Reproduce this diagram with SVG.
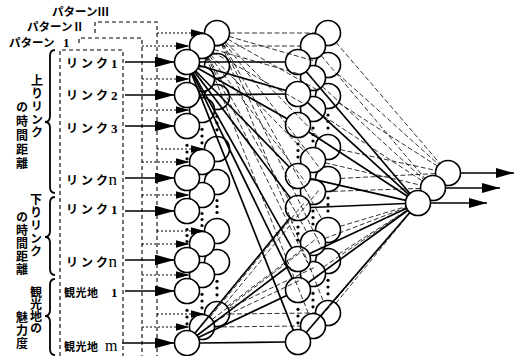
<svg xmlns="http://www.w3.org/2000/svg" width="515" height="356" viewBox="0 0 515 356">
<style>
.n circle{fill:#fff;stroke:#000;stroke-width:1.6}
.s{stroke:#000;stroke-width:1.7;fill:none}
.d{stroke:#000;stroke-width:0.8;stroke-dasharray:5 2.5;fill:none}
.box{stroke:#000;stroke-width:1.1;stroke-dasharray:4 3;fill:none}
.dt{stroke:#000;stroke-width:1;stroke-dasharray:2 2;fill:none}
.ar{stroke:#000;stroke-width:1.6;fill:none}
.br{stroke:#000;stroke-width:1.8;fill:none}
.jp{font-family:"Noto Sans CJK JP",sans-serif;font-weight:bold;fill:#000}
.sf{font-family:"Liberation Serif",serif;fill:#000}
.v{writing-mode:vertical-rl}
.dots circle{fill:#000}
</style>
<defs>
<marker id="ah" markerUnits="userSpaceOnUse" markerWidth="22" markerHeight="12" refX="20" refY="5.5" orient="auto"><path d="M0,0 L20,5.5 L0,11 z" fill="#000"/></marker>
<marker id="ahs" markerUnits="userSpaceOnUse" markerWidth="16" markerHeight="9" refX="14" refY="4" orient="auto"><path d="M0,0 L14,4 L0,8 z" fill="#000"/></marker>
<marker id="aho" markerUnits="userSpaceOnUse" markerWidth="20" markerHeight="12" refX="18" refY="5" orient="auto"><path d="M0,0 L18,5 L0,10 z" fill="#000"/></marker>
</defs>
<rect width="515" height="356" fill="#fff"/>

<g id="pattern-labels">
<text class="jp" x="52" y="16" font-size="11.5">パターンⅢ</text>
<text class="jp" x="27" y="30.5" font-size="11.5">パターンⅡ</text>
<text class="jp" x="9" y="46.5" font-size="11.5">パターン</text>
<text class="sf" x="63" y="46.5" font-size="13" font-weight="bold">1</text>
</g>

<g id="pattern-boxes">
<path class="box" d="M60,356 V50 H123 V356"/>
<path class="box" d="M79,43 V38 H142 V356"/>
<path class="box" d="M95,33 V22 H157 V356"/>
</g>

<g id="group-up">
<path class="br" d="M55,50 Q50,50 50,56 L50,116 Q50,122 45,122 Q50,122 50,128 L50,187 Q50,193 55,193"/>
<text class="jp v" x="37" y="74" font-size="12" letter-spacing="1">上りリンク</text>
<text class="jp v" x="22" y="101" font-size="12" letter-spacing="2">の時間距離</text>
</g>
<g id="group-down">
<path class="br" d="M55,197 Q50,197 50,203 L50,231 Q50,237 45,237 Q50,237 50,243 L50,269 Q50,275 55,275"/>
<text class="jp v" x="36" y="193" font-size="12" letter-spacing="1">下りリンク</text>
<text class="jp v" x="22" y="211" font-size="12" letter-spacing="1">の時間距離</text>
</g>
<g id="group-sight">
<path class="br" d="M55,279 Q50,279 50,285 L50,310 Q50,316 45,316 Q50,316 50,322 L50,349 Q50,355 55,355"/>
<text class="jp v" x="36" y="286" font-size="12">観光地の</text>
<text class="jp v" x="22" y="311" font-size="12" letter-spacing="1">魅力度</text>
</g>

<g id="input-labels">
<text class="jp" x="66 81 96" y="67.5" font-size="12">リンク</text><text class="sf" x="111" y="67.5" font-size="13" font-weight="bold">1</text>
<text class="jp" x="66 81 96" y="99.5" font-size="12">リンク</text><text class="sf" x="111" y="99.5" font-size="13" font-weight="bold">2</text>
<text class="jp" x="66 81 96" y="132.5" font-size="12">リンク</text><text class="sf" x="111" y="132.5" font-size="13" font-weight="bold">3</text>
<text class="jp" x="66 81 96" y="184.5" font-size="12">リンク</text><text class="sf" x="108.5" y="184.5" font-size="17">n</text>
<text class="jp" x="66 81 96" y="213.5" font-size="12">リンク</text><text class="sf" x="111" y="213.5" font-size="13" font-weight="bold">1</text>
<text class="jp" x="66 81 96" y="266.5" font-size="12">リンク</text><text class="sf" x="108.5" y="266.5" font-size="17">n</text>
<text class="jp" x="64" y="296.5" font-size="11" letter-spacing="0.5">観光地</text><text class="sf" x="111" y="296.5" font-size="13" font-weight="bold">1</text>
<text class="jp" x="64" y="351" font-size="11" letter-spacing="0.5">観光地</text><text class="sf" x="105" y="351" font-size="16">m</text>
</g>

<g id="in8" class="n"><circle cx="217" cy="314" r="12.5"/><circle cx="202" cy="327" r="12.5"/><circle cx="187" cy="343" r="12.5"/></g>
<g id="in7" class="n"><circle cx="217" cy="262" r="12.5"/><circle cx="202" cy="275" r="12.5"/><circle cx="187" cy="291" r="12.5"/></g>
<g id="in6" class="n"><circle cx="217" cy="231" r="12.5"/><circle cx="202" cy="244" r="12.5"/><circle cx="187" cy="260" r="12.5"/></g>
<g id="in5" class="n"><circle cx="217" cy="182" r="12.5"/><circle cx="202" cy="195" r="12.5"/><circle cx="187" cy="211" r="12.5"/></g>
<g id="in4" class="n"><circle cx="217" cy="149" r="12.5"/><circle cx="202" cy="162" r="12.5"/><circle cx="187" cy="178" r="12.5"/></g>
<g id="in3" class="n"><circle cx="217" cy="97" r="12.5"/><circle cx="202" cy="110" r="12.5"/><circle cx="187" cy="126" r="12.5"/></g>
<g id="in2" class="n"><circle cx="217" cy="66" r="12.5"/><circle cx="202" cy="79" r="12.5"/><circle cx="187" cy="95" r="12.5"/></g>
<g id="in1" class="n"><circle cx="217" cy="33" r="12.5"/><circle cx="202" cy="46" r="12.5"/><circle cx="187" cy="62" r="12.5"/></g>

<g id="h8" class="n"><circle cx="328" cy="313" r="12.5"/><circle cx="313" cy="326" r="12.5"/><circle cx="298" cy="342" r="12.5"/></g>
<g id="h7" class="n"><circle cx="328" cy="261" r="12.5"/><circle cx="313" cy="274" r="12.5"/><circle cx="298" cy="290" r="12.5"/></g>
<g id="h6" class="n"><circle cx="328" cy="230" r="12.5"/><circle cx="313" cy="243" r="12.5"/><circle cx="298" cy="259" r="12.5"/></g>
<g id="h5" class="n"><circle cx="328" cy="179" r="12.5"/><circle cx="313" cy="192" r="12.5"/><circle cx="298" cy="208" r="12.5"/></g>
<g id="h4" class="n"><circle cx="328" cy="147" r="12.5"/><circle cx="313" cy="160" r="12.5"/><circle cx="298" cy="176" r="12.5"/></g>
<g id="h3" class="n"><circle cx="328" cy="96" r="12.5"/><circle cx="313" cy="109" r="12.5"/><circle cx="298" cy="125" r="12.5"/></g>
<g id="h2" class="n"><circle cx="328" cy="65" r="12.5"/><circle cx="313" cy="78" r="12.5"/><circle cx="298" cy="94" r="12.5"/></g>
<g id="h1" class="n"><circle cx="328" cy="33" r="12.5"/><circle cx="313" cy="46" r="12.5"/><circle cx="298" cy="62" r="12.5"/></g>

<g id="out" class="n"><circle cx="448" cy="173" r="12.5"/><circle cx="433" cy="188" r="12.5"/><circle cx="418" cy="203" r="12.5"/></g>

<g id="ellipses" class="dots">
<circle cx="187" cy="145.3" r="1.6"/><circle cx="187" cy="152" r="1.6"/><circle cx="187" cy="158.8" r="1.6"/>
<circle cx="202" cy="129.3" r="1.6"/><circle cx="202" cy="136" r="1.6"/><circle cx="202" cy="142.8" r="1.6"/>
<circle cx="217" cy="116.3" r="1.6"/><circle cx="217" cy="123" r="1.6"/><circle cx="217" cy="129.8" r="1.6"/>
<circle cx="187" cy="229.5" r="1.6"/><circle cx="187" cy="235.5" r="1.6"/><circle cx="187" cy="241.5" r="1.6"/>
<circle cx="202" cy="213.5" r="1.6"/><circle cx="202" cy="219.5" r="1.6"/><circle cx="202" cy="225.5" r="1.6"/>
<circle cx="217" cy="200.5" r="1.6"/><circle cx="217" cy="206.5" r="1.6"/><circle cx="217" cy="212.5" r="1.6"/>
<circle cx="187" cy="310.3" r="1.6"/><circle cx="187" cy="317" r="1.6"/><circle cx="187" cy="323.8" r="1.6"/>
<circle cx="202" cy="294.3" r="1.6"/><circle cx="202" cy="301" r="1.6"/><circle cx="202" cy="307.8" r="1.6"/>
<circle cx="217" cy="281.3" r="1.6"/><circle cx="217" cy="288" r="1.6"/><circle cx="217" cy="294.8" r="1.6"/>
<circle cx="298" cy="144" r="1.6"/><circle cx="298" cy="150.5" r="1.6"/><circle cx="298" cy="157" r="1.6"/>
<circle cx="313" cy="128" r="1.6"/><circle cx="313" cy="134.5" r="1.6"/><circle cx="313" cy="141" r="1.6"/>
<circle cx="328" cy="115" r="1.6"/><circle cx="328" cy="121.5" r="1.6"/><circle cx="328" cy="128" r="1.6"/>
<circle cx="298" cy="227" r="1.6"/><circle cx="298" cy="233.5" r="1.6"/><circle cx="298" cy="240" r="1.6"/>
<circle cx="313" cy="211" r="1.6"/><circle cx="313" cy="217.5" r="1.6"/><circle cx="313" cy="224" r="1.6"/>
<circle cx="328" cy="198" r="1.6"/><circle cx="328" cy="204.5" r="1.6"/><circle cx="328" cy="211" r="1.6"/>
<circle cx="298" cy="309.3" r="1.6"/><circle cx="298" cy="316" r="1.6"/><circle cx="298" cy="322.8" r="1.6"/>
<circle cx="313" cy="293.3" r="1.6"/><circle cx="313" cy="300" r="1.6"/><circle cx="313" cy="306.8" r="1.6"/>
<circle cx="328" cy="280.3" r="1.6"/><circle cx="328" cy="287" r="1.6"/><circle cx="328" cy="293.8" r="1.6"/>
</g>

<g id="connectors">
<g>
<line class="ar" x1="125" y1="62" x2="174.5" y2="62" marker-end="url(#ah)"/>
<line class="ar" x1="125" y1="95" x2="174.5" y2="95" marker-end="url(#ah)"/>
<line class="ar" x1="125" y1="126" x2="174.5" y2="126" marker-end="url(#ah)"/>
<line class="ar" x1="125" y1="178" x2="174.5" y2="178" marker-end="url(#ah)"/>
<line class="ar" x1="125" y1="211" x2="174.5" y2="211" marker-end="url(#ah)"/>
<line class="ar" x1="125" y1="260" x2="174.5" y2="260" marker-end="url(#ah)"/>
<line class="ar" x1="125" y1="291" x2="174.5" y2="291" marker-end="url(#ah)"/>
<line class="ar" x1="122" y1="343" x2="174.5" y2="343" marker-end="url(#ah)"/>
</g>
<g>
<line class="dt" x1="142" y1="46" x2="189.5" y2="46" marker-end="url(#ahs)"/>
<line class="dt" x1="142" y1="79" x2="189.5" y2="79" marker-end="url(#ahs)"/>
<line class="dt" x1="142" y1="110" x2="189.5" y2="110" marker-end="url(#ahs)"/>
<line class="dt" x1="142" y1="162" x2="189.5" y2="162" marker-end="url(#ahs)"/>
<line class="dt" x1="142" y1="195" x2="189.5" y2="195" marker-end="url(#ahs)"/>
<line class="dt" x1="142" y1="244" x2="189.5" y2="244" marker-end="url(#ahs)"/>
<line class="dt" x1="142" y1="275" x2="189.5" y2="275" marker-end="url(#ahs)"/>
<line class="dt" x1="142" y1="327" x2="189.5" y2="327" marker-end="url(#ahs)"/>
</g>
<g>
<line class="dt" x1="157" y1="33" x2="204.5" y2="33" marker-end="url(#ahs)"/>
<line class="dt" x1="157" y1="149" x2="204.5" y2="149" marker-end="url(#ahs)"/>
<line class="dt" x1="157" y1="231" x2="204.5" y2="231" marker-end="url(#ahs)"/>
<line class="dt" x1="157" y1="314" x2="204.5" y2="314" marker-end="url(#ahs)"/>
</g>
<g class="d">
<line x1="229.5" y1="33" x2="315.5" y2="33"/>
<line x1="229" y1="36.5" x2="316" y2="61.5"/>
<line x1="227.9" y1="39.2" x2="317.1" y2="89.8"/>
<line x1="225.7" y1="42" x2="319.3" y2="138"/>
<line x1="224.6" y1="43" x2="320.4" y2="169"/>
<line x1="223.1" y1="43.9" x2="321.9" y2="219.1"/>
<line x1="222.5" y1="44.2" x2="322.5" y2="249.8"/>
<line x1="221.6" y1="44.6" x2="323.4" y2="301.4"/>
<line x1="214.5" y1="46" x2="300.5" y2="46"/>
<line x1="214" y1="49.5" x2="301" y2="74.5"/>
<line x1="212.9" y1="52.2" x2="302.1" y2="102.8"/>
<line x1="210.7" y1="55" x2="304.3" y2="151"/>
<line x1="209.6" y1="56" x2="305.4" y2="182"/>
<line x1="208.1" y1="56.9" x2="306.9" y2="232.1"/>
<line x1="207.5" y1="57.2" x2="307.5" y2="262.8"/>
<line x1="206.6" y1="57.6" x2="308.4" y2="313.4"/>
<line x1="229.5" y1="314" x2="315.5" y2="313"/>
<line x1="228.3" y1="308.6" x2="316.7" y2="266.4"/>
<line x1="227" y1="306.5" x2="318" y2="237.5"/>
<line x1="224.9" y1="304.3" x2="320.1" y2="188.7"/>
<line x1="214.5" y1="327" x2="300.5" y2="326"/>
<line x1="213.3" y1="321.6" x2="301.7" y2="279.4"/>
<line x1="212" y1="319.5" x2="303" y2="250.5"/>
<line x1="209.9" y1="317.3" x2="305.1" y2="201.7"/>
</g>
<g class="s">
<line x1="199.5" y1="62" x2="285.5" y2="62"/>
<line x1="199" y1="65.5" x2="286" y2="90.5"/>
<line x1="197.9" y1="68.2" x2="287.1" y2="118.8"/>
<line x1="195.7" y1="71" x2="289.3" y2="167"/>
<line x1="194.6" y1="72" x2="290.4" y2="198"/>
<line x1="193.1" y1="72.9" x2="291.9" y2="248.1"/>
<line x1="192.5" y1="73.2" x2="292.5" y2="278.8"/>
<line x1="191.6" y1="73.6" x2="293.4" y2="330.4"/>
<line x1="199.5" y1="95" x2="285.5" y2="94"/>
<line x1="199.5" y1="343" x2="285.5" y2="342"/>
<line x1="198.3" y1="337.6" x2="286.7" y2="295.4"/>
<line x1="197" y1="335.5" x2="288" y2="266.5"/>
<line x1="194.9" y1="333.3" x2="290.1" y2="217.7"/>
</g>
<g class="d">
<line x1="321.1" y1="55.5" x2="424.9" y2="178.5"/>
<line x1="322.2" y1="86.4" x2="423.8" y2="179.5"/>
<line x1="323.4" y1="115.9" x2="422.6" y2="181.1"/>
<line x1="325.2" y1="162.8" x2="420.8" y2="185.2"/>
<line x1="325.5" y1="191.6" x2="420.5" y2="188.4"/>
<line x1="324.7" y1="238.6" x2="406.3" y2="207.5"/>
<line x1="323.4" y1="267" x2="407.6" y2="210"/>
<line x1="321.1" y1="316.5" x2="409.9" y2="212.5"/>
<line x1="336.1" y1="42.5" x2="439.9" y2="163.5"/>
<line x1="337.3" y1="73.4" x2="438.7" y2="164.6"/>
<line x1="338.5" y1="102.8" x2="437.5" y2="166.2"/>
<line x1="340.2" y1="149.6" x2="435.8" y2="170.4"/>
<line x1="340.5" y1="178.4" x2="435.5" y2="173.6"/>
<line x1="340" y1="226.4" x2="406" y2="206.6"/>
<line x1="338.5" y1="254.2" x2="407.5" y2="209.8"/>
<line x1="335.9" y1="303.3" x2="410.1" y2="212.7"/>
</g>
<g class="s">
<line x1="306.1" y1="71.5" x2="409.9" y2="193.5"/>
<line x1="307.3" y1="102.4" x2="408.8" y2="194.6"/>
<line x1="308.5" y1="131.8" x2="407.5" y2="196.2"/>
<line x1="310.2" y1="178.7" x2="405.8" y2="200.3"/>
<line x1="310.5" y1="207.5" x2="405.5" y2="203.5"/>
<line x1="309.3" y1="253.7" x2="406.7" y2="208.3"/>
<line x1="308.1" y1="282.7" x2="407.9" y2="210.3"/>
<line x1="306.2" y1="332.5" x2="409.8" y2="212.5"/>
</g>
<g>
<line class="ar" x1="460.5" y1="173" x2="514" y2="173" marker-end="url(#aho)"/>
<line class="ar" x1="445.5" y1="188" x2="500" y2="188" marker-end="url(#aho)"/>
<line class="ar" x1="430.5" y1="203" x2="487" y2="203" marker-end="url(#aho)"/>
</g>
</g>
</svg>
